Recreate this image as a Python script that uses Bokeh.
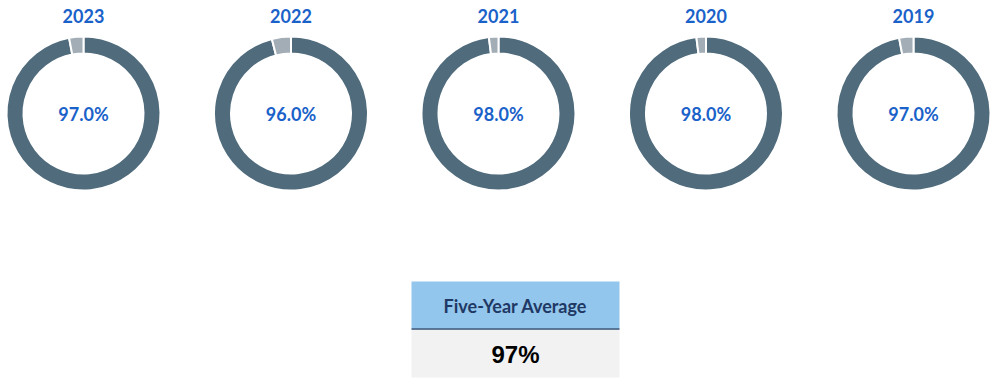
import math
from bokeh.plotting import figure
from bokeh.models import Range1d, ColumnDataSource
from bokeh.core.properties import value
from bokeh.embed import file_html
from bokeh.resources import INLINE

# ---- data ----
years = ["2023", "2022", "2021", "2020", "2019"]
rates = [97.0, 96.0, 98.0, 98.0, 97.0]
avg_label = "Five-Year Average"
avg_value = "97%"

W, H = 993, 384
p = figure(width=W, height=H, x_range=Range1d(0, W), y_range=Range1d(0, H),
           output_backend="svg", toolbar_location=None, min_border=0)
p.axis.visible = False
p.grid.visible = False
p.outline_line_color = None
p.background_fill_color = "white"
p.border_fill_color = "white"

def Y(py):
    return H - py

cx0, dx = 83, 207.5
cy = Y(113)
r_out, r_in = 77, 60
xs = [cx0 + i * dx for i in range(len(years))]

main_end = [math.pi / 2 - 2 * math.pi * v / 100 for v in rates]
src = ColumnDataSource(dict(x=xs, y=[cy] * len(xs), start=[math.pi / 2] * len(xs),
                            end=main_end, rest_end=[math.pi / 2 - 2 * math.pi] * len(xs),
                            year=years, label=[f"{v:.1f}%" for v in rates]))

p.annular_wedge(x="x", y="y", inner_radius=r_in, outer_radius=r_out,
                start_angle="start", end_angle="end", direction="clock",
                fill_color="#4f6b7c", line_color="white", line_width=2, source=src)
p.annular_wedge(x="x", y="y", inner_radius=r_in, outer_radius=r_out,
                start_angle="end", end_angle="rest_end", direction="clock",
                fill_color="#a2adb6", line_color="white", line_width=2, source=src)

p.text(x="x", y=Y(15.5), text="year", source=src, text_font=value("Lato"),
       text_font_style="bold", text_font_size="18px", text_color="#1a62c9",
       text_align="center", text_baseline="middle")
p.text(x="x", y=Y(113.5), text="label", source=src, text_font=value("Lato"),
       text_font_style="bold", text_font_size="18px", text_color="#1a62c9",
       text_align="center", text_baseline="middle")

# ---- five-year average table ----
tx0, tx1 = 411, 619
p.quad(left=tx0, right=tx1, top=Y(281), bottom=Y(328), fill_color="#93c6ec", line_color=None)
p.quad(left=tx0, right=tx1, top=Y(329), bottom=Y(377), fill_color="#f2f2f2", line_color=None)
p.segment(x0=tx0, x1=tx1, y0=Y(328.5), y1=Y(328.5), line_color="#2f4f75", line_width=1.5)
p.text(x=(tx0 + tx1) / 2, y=Y(305), text=[avg_label], text_font=value("Lato"),
       text_font_style="bold", text_font_size="18px", text_color="#1f3864",
       text_align="center", text_baseline="middle")
p.text(x=(tx0 + tx1) / 2, y=Y(354), text=[avg_value], text_font=value("Liberation Sans"),
       text_font_style="bold", text_font_size="24px", text_color="#000000",
       text_align="center", text_baseline="middle")

open("out.html", "w").write(file_html(p, INLINE))
